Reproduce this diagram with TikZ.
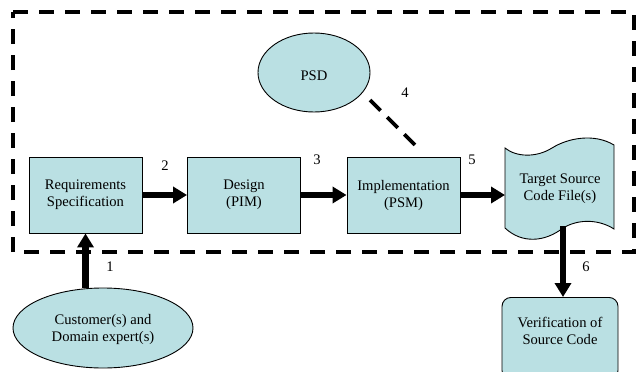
\documentclass[tikz,border=0pt]{standalone}
\usepackage{fontspec}
\setmainfont{Liberation Serif}
\newfontfamily\diagfont{Liberation Serif}
\usetikzlibrary{arrows.meta,shapes.geometric}

\definecolor{boxfill}{RGB}{186,224,227}

\tikzset{
  every node/.style={font=\diagfont\fontsize{14.6}{17}\selectfont},
  procbox/.style={draw=black, line width=0.9pt, fill=boxfill, align=center,
    minimum width=113pt, minimum height=76pt, inner sep=0pt},
  actor/.style={ellipse, draw=black, line width=0.9pt, fill=boxfill, align=center,
    inner sep=0pt},
  flow/.style={line width=6.5pt, -{Triangle[length=14pt,width=16pt]}},
  boundary/.style={line width=3.6pt, dash pattern=on 15pt off 11pt},
  hint/.style={line width=3.6pt, dash pattern=on 15pt off 9.3pt},
  steplabel/.style={inner sep=0pt}
}

\begin{document}
\begin{tikzpicture}[x=1pt, y=-1pt]
\useasboundingbox (0,0) rectangle (637,372);
\clip (0,0) rectangle (637,372);

% system boundary
\draw[boundary] (13,12) -- (634,12) -- (634,252) -- (13,252) -- cycle;

% process steps
\node[procbox] (req) at (85.5,195) {Requirements\\Specification};
\node[procbox] (des) at (244,195) {Design\\(PIM)};
\node[procbox] (imp) at (403.5,195) {Implementation\\(PSM)};

% platform description
\node[actor, minimum width=112pt, minimum height=79pt] (psd) at (314,72.5) {};
\node at (314,76) {PSD};

% stakeholders
\node[actor, minimum width=180pt, minimum height=80pt] (cust) at (103,328) {};
\node[align=center] at (103,329) {Customer(s) and\\Domain expert(s)};

% generated source file (document shape)
\draw[line width=0.9pt, fill=boxfill]
  (505,148) .. controls (516,157) and (536,158) .. (552,148)
  .. controls (568,138) and (594,133) .. (614,145)
  -- (614,229)
  .. controls (600,220) and (580,218) .. (563,228)
  .. controls (545,242) and (522,244) .. (505,228) -- cycle;
\coordinate (tgtin) at (505,195);
\coordinate (tgtout) at (563,226);
\node[align=center] (tgt) at (560,189) {Target Source\\Code File(s)};

% verification
\node[draw=black, line width=0.9pt, fill=boxfill, rounded corners=9pt,
  minimum width=116pt, minimum height=82pt, inner sep=0pt, anchor=north]
  (ver) at (560,297) {};
\node[align=center] at (560,331) {Verification of\\Source Code};

% flows
\draw[flow] (cust.north -| req.south) -- (req.south);
\draw[flow] (req.east) -- (des.west);
\draw[flow] (des.east) -- (imp.west);
\draw[flow] (imp.east) -- (tgtin);
\draw[flow] (tgtout) -- (tgtout |- ver.north);

% platform mapping hint
\coordinate (hintA) at (370,100);
\coordinate (hintB) at (415,145);
\draw[hint] (hintA) -- (hintB);

% step numbers
\node[steplabel] (n1) at (110,267) {1};
\node[steplabel] (n2) at (165,166) {2};
\node[steplabel] (n3) at (317,160) {3};
\node[steplabel] (n4) at (405,93) {4};
\node[steplabel] (n5) at (472,160) {5};
\node[steplabel] (n6) at (586,267) {6};
\end{tikzpicture}
\end{document}
